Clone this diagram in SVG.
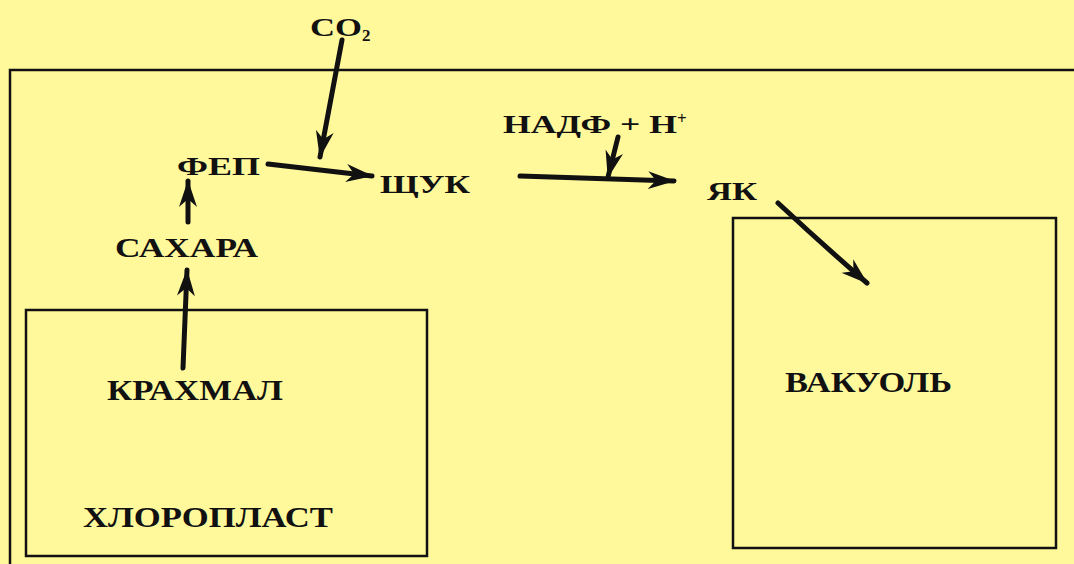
<svg xmlns="http://www.w3.org/2000/svg" width="1074" height="564" viewBox="0 0 1074 564">
<style>
.t{font-family:"Liberation Serif","Times New Roman",serif;font-weight:bold;fill:#111;}
.box{fill:none;stroke:#111;stroke-width:2.5;}
.arr{fill:none;stroke:#111;stroke-width:5;stroke-linecap:round;marker-end:url(#ah);}
</style>
<defs>
<marker id="ah" markerUnits="userSpaceOnUse" markerWidth="28" markerHeight="18" refX="26" refY="9" orient="auto">
<path d="M0,0 L27,9 L0,18 L8,9 Z" fill="#111"/>
</marker>
</defs>
<rect width="1074" height="564" fill="#FFF99B"/>
<g id="cell"><path class="box" d="M1074,70 L10,70 L10,564"/></g>
<g id="chloroplast"><rect class="box" x="26" y="310" width="401" height="246"/>
<text class="t" x="83" y="527" font-size="29" textLength="250" lengthAdjust="spacingAndGlyphs">ХЛОРОПЛАСТ</text></g>
<g id="vacuole"><rect class="box" x="733" y="218" width="323" height="330"/>
<text class="t" x="785" y="392" font-size="29" textLength="167" lengthAdjust="spacingAndGlyphs">ВАКУОЛЬ</text></g>
<g id="co2"><text class="t" x="310" y="36" font-size="26"><tspan textLength="52" lengthAdjust="spacingAndGlyphs">CO</tspan><tspan font-size="17" dy="5">2</tspan></text></g>
<g id="fep"><text class="t" x="177" y="175" font-size="25" textLength="83" lengthAdjust="spacingAndGlyphs">ФЕП</text></g>
<g id="shchuk"><text class="t" x="380" y="193" font-size="25" textLength="90" lengthAdjust="spacingAndGlyphs">ЩУК</text></g>
<g id="nadf"><text class="t" x="503" y="133" font-size="26"><tspan textLength="174" lengthAdjust="spacingAndGlyphs">НАДФ + Н</tspan><tspan font-size="17" dy="-9">+</tspan></text></g>
<g id="yak"><text class="t" x="707" y="200" font-size="25" textLength="50" lengthAdjust="spacingAndGlyphs">ЯК</text></g>
<g id="sahara"><text class="t" x="115" y="257" font-size="28" textLength="143" lengthAdjust="spacingAndGlyphs">САХАРА</text></g>
<g id="krahmal"><text class="t" x="107" y="400" font-size="29" textLength="176" lengthAdjust="spacingAndGlyphs">КРАХМАЛ</text></g>
<g id="connectors">
<path class="arr" d="M342,40 L320,157"/>
<path class="arr" d="M268,164 L372,176"/>
<path class="arr" d="M188,222 L188,181"/>
<path class="arr" d="M183,368 L187,270"/>
<path class="arr" d="M520,176 L674,181"/>
<path class="arr" d="M618,137 L608,177"/>
<path class="arr" d="M778,203 Q822,244 867,283"/>
</g>
</svg>
